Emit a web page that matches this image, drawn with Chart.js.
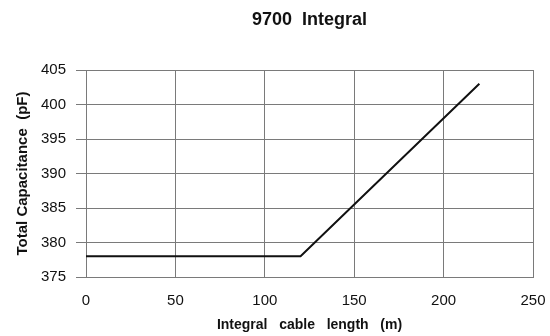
<!DOCTYPE html>
<html>
<head>
<meta charset="utf-8">
<script src="https://cdn.jsdelivr.net/npm/chart.js@4/dist/chart.umd.min.js"></script>
<style>
html,body{margin:0;padding:0;background:#fff;}
#wrap{width:550px;height:336px;position:relative;}
</style>
</head>
<body>
<div id="wrap"><canvas id="c" width="550" height="336"></canvas></div>
<script>
const lengths = [0, 120, 220];
const capacitance = [378, 378, 403];
const xTicks = [0, 50, 100, 150, 200, 250];
const yTicks = [375, 380, 385, 390, 395, 400, 405];
const chartTitle = '9700  Integral';
const xTitle = 'Integral   cable   length   (m)';
const yTitle = 'Total Capacitance  (pF)';

const FONT = "'Liberation Sans', Arial, sans-serif";
const gridColor = '#7a7a7a';

new Chart(document.getElementById('c'), {
  type: 'line',
  data: {
    datasets: [{
      data: lengths.map((x, i) => ({x: x, y: capacitance[i]})),
      borderColor: '#111',
      borderWidth: 2,
      pointRadius: 0,
      tension: 0,
      fill: false
    }]
  },
  options: {
    responsive: false,
    animation: false,
    layout: {padding: {left: 0, right: 17, top: 0, bottom: 0}},
    plugins: {
      legend: {display: false},
      tooltip: {enabled: false},
      title: {
        display: true,
        text: chartTitle,
        fullSize: false,
        color: '#111',
        font: {family: FONT, size: 18, weight: 'bold'},
        padding: {top: 9, bottom: 39.4}
      }
    },
    scales: {
      x: {
        type: 'linear',
        min: 0, max: 250,
        afterBuildTicks: s => { s.ticks = xTicks.map(v => ({value: v})); },
        afterFit: s => { s.height = 59; s.paddingRight = 0; s.paddingLeft = 0; },
        grid: {color: gridColor, lineWidth: 1, drawTicks: false},
        border: {color: gridColor, width: 1},
        ticks: {color: '#111', padding: 15, maxRotation: 0, font: {family: FONT, size: 15}},
        title: {display: true, text: xTitle, color: '#111',
          font: {family: FONT, size: 14, weight: 'bold'}, padding: {top: 2, bottom: 2}}
      },
      y: {
        type: 'linear',
        min: 375, max: 405,
        afterBuildTicks: s => { s.ticks = yTicks.map(v => ({value: v})); },
        afterFit: s => { s.width = 86; s.paddingTop = 0; s.paddingBottom = 0; },
        grid: {color: gridColor, lineWidth: 1, drawTicks: true, tickLength: 10},
        border: {color: gridColor, width: 1},
        ticks: {color: '#111', padding: 10, font: {family: FONT, size: 15}},
        title: {display: true, text: yTitle, color: '#111',
          font: {family: FONT, size: 15, weight: 'bold'}, padding: {top: 14, bottom: 2}}
      }
    }
  }
});
</script>
</body>
</html>
